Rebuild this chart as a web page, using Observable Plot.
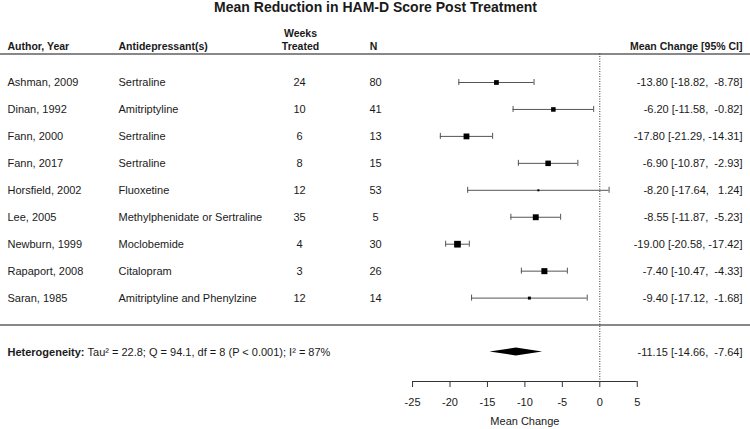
<!DOCTYPE html>
<html>
<head>
<meta charset="utf-8">
<script src="https://cdn.jsdelivr.net/npm/d3@7"></script>
<script src="https://cdn.jsdelivr.net/npm/@observablehq/plot@0.6"></script>
<style>
  html, body { margin: 0; padding: 0; background: #fff; }
</style>
</head>
<body>
<div id="chart"></div>
<script>
// ---------------- data ----------------
const title = "Mean Reduction in HAM-D Score Post Treatment";
const authors = ["Ashman, 2009", "Dinan, 1992", "Fann, 2000", "Fann, 2017", "Horsfield, 2002",
                 "Lee, 2005", "Newburn, 1999", "Rapaport, 2008", "Saran, 1985"];
const drugs = ["Sertraline", "Amitriptyline", "Sertraline", "Sertraline", "Fluoxetine",
               "Methylphenidate or Sertraline", "Moclobemide", "Citalopram", "Amitriptyline and Phenylzine"];
const weeks = [24, 10, 6, 8, 12, 35, 4, 3, 12];
const ns = [80, 41, 13, 15, 53, 5, 30, 26, 14];
const means = [-13.80, -6.20, -17.80, -6.90, -8.20, -8.55, -19.00, -7.40, -9.40];
const lowers = [-18.82, -11.58, -21.29, -10.87, -17.64, -11.87, -20.58, -10.47, -17.12];
const uppers = [-8.78, -0.82, -14.31, -2.93, 1.24, -5.23, -17.42, -4.33, -1.68];
// estimated study weights (%)
const weights = [10.3, 10.0, 11.7, 11.3, 6.6, 11.8, 12.9, 12.0, 7.9];
const pooled = [-11.15, -14.66, -7.64]; // estimate, lower, upper
const heterogeneityLabel = "Heterogeneity:";
const heterogeneityStats = "Tau\u00b2 = 22.8; Q = 94.1, df = 8 (P < 0.001); I\u00b2 = 87%";
const columnHeaders = ["Author, Year", "Antidepressant(s)", "Weeks\nTreated", "N", "Mean Change [95% CI]"];
const tickValues = [-25, -20, -15, -10, -5, 0, 5];
const axisLabel = "Mean Change";

// ---------------- layout (pixels) ----------------
const W = 750, H = 429;
const row0 = 82, rowStep = 26.95;          // pixel y of first row and row spacing
const axisY = 381;                          // pixel y of the x axis line
const zeroPx = 599.3, pxPerUnit = 7.49;     // x scale calibration
const toRow = px => (px - row0) / rowStep;
const xDomain = [(0 - zeroPx) / pxPerUnit, (W - zeroPx) / pxPerUnit];
const yDomain = [toRow(0), toRow(H)];
const headerRow = toRow(49);
const headerLineRow = toRow(53.5);
const axisRow = toRow(axisY);
const tickEndRow = toRow(axisY + 6);
const tickLabelRow = toRow(402);
const axisLabelRow = toRow(421);
const sepRow = authors.length;      // separator after studies
const pooledRow = authors.length + 1;
const capHalf = 3 / rowStep;
const diamondHalf = 4 / rowStep;

const fontFamily = "'Liberation Sans', Arial, Helvetica, sans-serif";
const fmt = v => v.toFixed(2);
const pad = s => s.padStart(6, "\u00a0");
const ciLabel = (m, l, u) => `${fmt(m)} [${pad(fmt(l))}, ${pad(fmt(u))}]`;

const studies = authors.map((a, i) => ({
  author: a, drug: drugs[i], weeks: weeks[i], n: ns[i],
  mean: means[i], lo: lowers[i], hi: uppers[i], weight: weights[i], row: i,
  label: ciLabel(means[i], lowers[i], uppers[i])
}));

const diamond = [
  {x: pooled[1], y1: pooledRow, y2: pooledRow},
  {x: pooled[0], y1: pooledRow - diamondHalf, y2: pooledRow + diamondHalf},
  {x: pooled[2], y1: pooledRow, y2: pooledRow}
];

// measure bold label width so the stats text follows it
const ctx = document.createElement("canvas").getContext("2d");
ctx.font = `bold 11px ${fontFamily}`;
const hetW = ctx.measureText(heterogeneityLabel).width;

const txt = "#1a1a1a";
const chart = Plot.plot({
  width: W, height: H,
  marginLeft: 0, marginRight: 0, marginTop: 0, marginBottom: 0,
  style: {fontFamily, fontSize: "11px", color: txt, background: "white", overflow: "visible"},
  x: {domain: xDomain, range: [0, W], axis: null},
  y: {domain: yDomain, range: [0, H], axis: null},
  r: {type: "linear", domain: [6.6, 12.9], range: [1.13, 3.78]},
  marks: [
    // title
    Plot.text([title], {frameAnchor: "top", dy: 2, lineAnchor: "top", fontWeight: "bold", fontSize: 14, fill: txt}),
    // headers
    Plot.text([columnHeaders[0]], {y: headerRow, frameAnchor: "left", dx: 7, textAnchor: "start", lineAnchor: "bottom", fontWeight: "bold", fontSize: 10.5, fill: txt}),
    Plot.text([columnHeaders[1]], {y: headerRow, frameAnchor: "left", dx: 118, textAnchor: "start", lineAnchor: "bottom", fontWeight: "bold", fontSize: 10.5, fill: txt}),
    Plot.text([columnHeaders[2]], {y: headerRow, frameAnchor: "left", dx: 300, textAnchor: "middle", lineAnchor: "bottom", lineHeight: 1.2, fontWeight: "bold", fontSize: 10.5, fill: txt}),
    Plot.text([columnHeaders[3]], {y: headerRow, frameAnchor: "left", dx: 373, textAnchor: "middle", lineAnchor: "bottom", fontWeight: "bold", fontSize: 10.5, fill: txt}),
    Plot.text([columnHeaders[4]], {y: headerRow, frameAnchor: "right", dx: -8, textAnchor: "end", lineAnchor: "bottom", fontWeight: "bold", fontSize: 10.5, fill: txt}),
    // header and separator lines
    Plot.ruleY([headerLineRow, sepRow], {stroke: "#888", strokeWidth: 2}),
    // zero reference line
    Plot.ruleX([0], {y1: headerLineRow, y2: axisRow, stroke: "#333", strokeWidth: 1, strokeDasharray: "1,1.5"}),
    // study columns
    Plot.text(studies, {y: "row", text: "author", frameAnchor: "left", dx: 7, textAnchor: "start", fill: txt}),
    Plot.text(studies, {y: "row", text: "drug", frameAnchor: "left", dx: 118, textAnchor: "start", fill: txt}),
    Plot.text(studies, {y: "row", text: d => String(d.weeks), frameAnchor: "left", dx: 299, textAnchor: "middle", fill: txt}),
    Plot.text(studies, {y: "row", text: d => String(d.n), frameAnchor: "left", dx: 375, textAnchor: "middle", fill: txt}),
    Plot.text(studies, {y: "row", text: "label", frameAnchor: "right", dx: -8, textAnchor: "end", fill: txt}),
    // CIs
    Plot.ruleY(studies, {y: "row", x1: "lo", x2: "hi", stroke: "#555", strokeWidth: 1}),
    Plot.ruleX(studies, {x: "lo", y1: d => d.row - capHalf, y2: d => d.row + capHalf, stroke: "#555"}),
    Plot.ruleX(studies, {x: "hi", y1: d => d.row - capHalf, y2: d => d.row + capHalf, stroke: "#555"}),
    Plot.dot(studies, {x: "mean", y: "row", r: "weight", symbol: "square", fill: "black", stroke: "none"}),
    // pooled estimate
    Plot.areaY(diamond, {x: "x", y1: "y1", y2: "y2", fill: "black"}),
    Plot.text([heterogeneityLabel], {y: pooledRow, frameAnchor: "left", dx: 7, textAnchor: "start", fontWeight: "bold", fill: txt}),
    Plot.text([heterogeneityStats], {y: pooledRow, frameAnchor: "left", dx: 7 + hetW + 3, textAnchor: "start", fill: txt}),
    Plot.text([ciLabel(pooled[0], pooled[1], pooled[2])], {y: pooledRow, frameAnchor: "right", dx: -8, textAnchor: "end", fill: txt}),
    // x axis: line, ticks, labels, title
    Plot.ruleY([axisRow], {x1: tickValues[0], x2: tickValues[tickValues.length - 1], stroke: "#333"}),
    Plot.ruleX(tickValues, {x: d => d, y1: axisRow, y2: tickEndRow, stroke: "#333"}),
    Plot.text(tickValues, {x: d => d, y: tickLabelRow, text: d => String(d), fill: txt}),
    Plot.text([axisLabel], {x: (tickValues[0] + tickValues[tickValues.length - 1]) / 2, y: axisLabelRow, fill: txt})
  ]
});
document.getElementById("chart").appendChild(chart);
</script>
</body>
</html>
